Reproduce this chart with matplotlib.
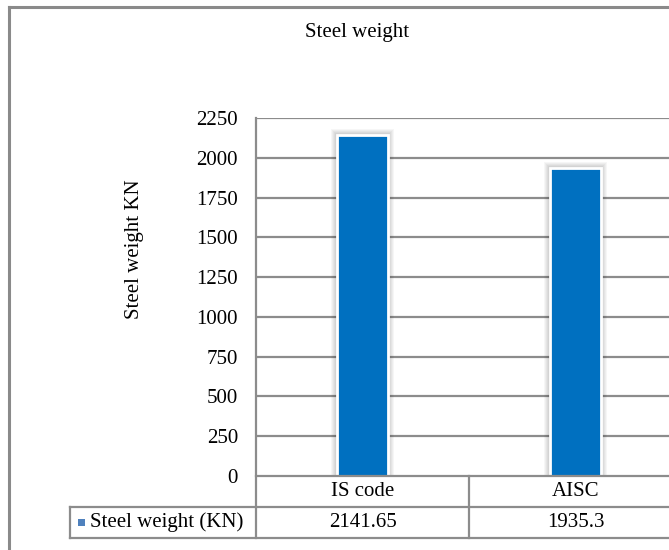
import matplotlib
matplotlib.use("Agg")
import matplotlib.pyplot as plt
from matplotlib.patches import Rectangle
import matplotlib.transforms as mtransforms

categories = ["IS code", "AISC"]
values = [2141.65, 1935.3]
value_labels = ["2141.65", "1935.3"]
series_name = "Steel weight (KN)"
title = "Steel weight"
ylabel = "Steel weight KN"
yticks = [0, 250, 500, 750, 1000, 1250, 1500, 1750, 2000, 2250]

plt.rcParams['font.family'] = ['Liberation Serif', 'DejaVu Serif']

W, H = 669, 550
fig = plt.figure(figsize=(W / 100, H / 100), dpi=100)

def fx(px):
    return px / W

def fy(py):
    return 1 - py / H

grid_c = '#8c8c8c'
bar_c = '#0070C0'

# outer frame
fig.add_artist(plt.Line2D([fx(9), fx(9)], [fy(7), fy(560)], color='#8a8a8a', lw=2.2, transform=fig.transFigure))
fig.add_artist(plt.Line2D([fx(9), fx(700)], [fy(7), fy(7)], color='#8a8a8a', lw=2.2, transform=fig.transFigure))

left, right = 256, 682
top, bottom = 118, 476
ax = fig.add_axes([fx(left), fy(bottom), (right - left) / W, (bottom - top) / H])
ax.set_xlim(-0.5, 1.5)
ax.set_ylim(0, 2250)
for s in ax.spines.values():
    s.set_visible(False)
ax.set_yticks(yticks)
ax.set_yticklabels([str(t) for t in yticks], fontsize=15)
ax.tick_params(axis='y', length=0, pad=13)
ax.set_xticks([])
for t in yticks[1:]:
    ax.axhline(t, color=grid_c, lw=1.6, zorder=1)

x = list(range(len(categories)))
bw = 0.24
# soft shadow glow
px_x = 2.0 / (right - left)
px_y = 2250.0 / (bottom - top)
for i, v in zip(x, values):
    for k in range(6, 0, -1):
        ax.add_patch(Rectangle((i - bw / 2 - k * px_x, -10), bw + 2 * k * px_x, v + k * px_y + 10,
                               facecolor='black', edgecolor='none', alpha=0.035, zorder=2))
ax.bar(x, values, width=bw, color=bar_c, edgecolor='white', linewidth=2, zorder=3)

# axes line and table
line_kw = dict(color=grid_c, lw=1.6, clip_on=False, transform=fig.transFigure)
fig.add_artist(plt.Line2D([fx(256), fx(256)], [fy(118), fy(538)], **line_kw))
fig.add_artist(plt.Line2D([fx(256), fx(700)], [fy(476), fy(476)], **line_kw))
fig.add_artist(plt.Line2D([fx(70), fx(700)], [fy(507), fy(507)], **line_kw))
fig.add_artist(plt.Line2D([fx(70), fx(700)], [fy(538), fy(538)], **line_kw))
fig.add_artist(plt.Line2D([fx(70), fx(70)], [fy(507), fy(538)], **line_kw))
fig.add_artist(plt.Line2D([fx(469), fx(469)], [fy(476), fy(538)], **line_kw))

trans = mtransforms.blended_transform_factory(ax.transData, fig.transFigure)
for i, (c, lab) in enumerate(zip(categories, value_labels)):
    ax.text(i, fy(491.5), c, transform=trans, ha='center', va='center', fontsize=15)
    ax.text(i, fy(522.5), lab, transform=trans, ha='center', va='center', fontsize=15)

fig.add_artist(Rectangle((fx(78), fy(526)), 7 / W, 7 / H, facecolor='#4F81BD',
                         edgecolor='none', transform=fig.transFigure))
fig.text(fx(90), fy(522.5), series_name, ha='left', va='center', fontsize=15)

fig.text(fx(357), fy(32), title, ha='center', va='center', fontsize=15)
fig.text(fx(134), fy(249), ylabel, ha='center', va='center', rotation=90, fontsize=15)

fig.savefig("out.png", dpi=100)
